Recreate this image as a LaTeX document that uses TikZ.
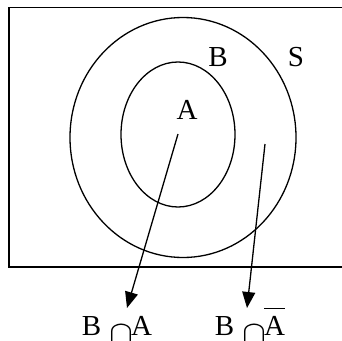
\documentclass[tikz,border=0pt]{standalone}
\usepackage{fontspec}
\setmainfont{Liberation Serif}
\usetikzlibrary{arrows.meta,shapes.geometric}

\tikzset{
  setline/.style={line width=1.3pt},
  setlabel/.style={inner sep=0pt,font=\fontsize{29}{33}\selectfont},
  maparrow/.style={line width=1.3pt,-{Triangle[length=16pt,width=13pt]}}
}
\newcommand{\lowcap}{\raisebox{-10pt}{\resizebox{24pt}{!}{$\cap$}}}

\begin{document}
\begin{tikzpicture}[x=1pt,y=-1pt]
			\useasboundingbox (0,0) rectangle (342,340);
			\draw[setline] (9,7.5) rectangle (350,267);
			\node[setline,draw,ellipse,minimum width=226pt,minimum height=240pt] (setB) at (183,137.5) {};
			\node[setline,draw,ellipse,minimum width=114pt,minimum height=145pt] (setA) at (178,134.5) {};
			\node[setlabel] (labB) at (218,57.5) {B};
			\node[setlabel] (labS) at (296,57) {S};
			\node[setlabel] (labA) at (187,110) {A};
			\coordinate (fromA) at (178,134);
			\coordinate (fromBnotA) at (265,144);
			\coordinate (toA) at (127,308);
			\coordinate (toBnotA) at (247,308);
			\draw[maparrow] (fromA) -- (toA);
			\draw[maparrow] (fromBnotA) -- (toBnotA);
			\node[setlabel,anchor=base] (inter) at (117,335) {B\hspace{8pt}\lowcap\hspace{-2pt}A};
			\node[setlabel,anchor=base] (diff) at (250,335) {B\hspace{8pt}\lowcap\hspace{-2pt}$\overline{\rule{0pt}{25pt}\mbox{A}}$};
			\end{tikzpicture}
\end{document}
